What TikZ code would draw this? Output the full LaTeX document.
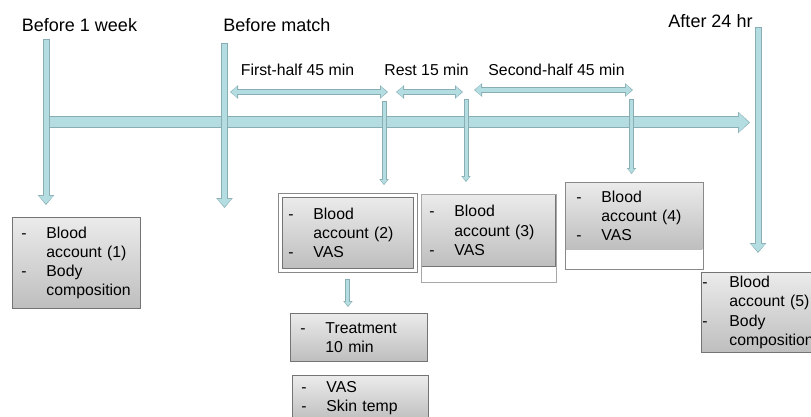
\documentclass[tikz,border=0pt]{standalone}
\usepackage{fontspec}
\setmainfont{Liberation Sans}
\usetikzlibrary{arrows.meta,calc,fit}
\definecolor{tlfill}{HTML}{B4DDE1}
\definecolor{tlline}{HTML}{88AEB3}
\definecolor{boxline}{HTML}{747474}
\definecolor{boxtop}{HTML}{EBEBEB}
\definecolor{boxbot}{HTML}{BEBEBE}
\definecolor{frameline}{HTML}{A8A8A8}
\newcommand\boxfont{\fontsize{15.8}{19.3}\selectfont}
\newcommand\itm{\makebox[25pt][l]{-}}
\newcommand\gap{\hspace*{25pt}}

\begin{document}
\begin{tikzpicture}[x=1pt, y=-1pt,
  axtip/.tip={Triangle[width=9pt 1, length=0pt 1]},
  mktip/.tip={Triangle[width=9pt 1, length=3pt 1]},
  sptip/.tip={Triangle[width=7pt 1, length=2pt 1]},
  thtip/.tip={Triangle[width=4pt 1, length=1pt 1]},
  fat/.style={draw=tlfill, line width=#1, shorten >=1.2pt, shorten <=1pt,
    preaction={draw=tlline, line width=#1+2pt, shorten >=0pt, shorten <=0pt}},
  hd/.style={font=\fontsize{18}{21}\selectfont, inner sep=0pt},
  lb/.style={font=\fontsize{15.8}{19}\selectfont, inner sep=0pt},
  box/.style={draw=boxline, line width=0.9pt, top color=boxtop, bottom color=boxbot,
    anchor=north west, align=left, inner xsep=9pt, inner ysep=0pt, font=\boxfont},
  frame/.style={draw=frameline, line width=0.8pt}]
\clip (0,0) rectangle (811,417);

% time points
\node[hd] (w1) at (79.5,25) {Before 1 week};
\node[hd] (w2) at (277,25) {Before match};
\node[hd] (w3) at (710.5,21) {After 24 hr};
\node[lb] (s1) at (297.5,70) {First-half 45 min};
\node[lb] (s2) at (426.5,70) {Rest 15 min};
\node[lb] (s3) at (556.5,70) {Second-half 45 min};

% measurements
\node[box, text width=110pt, minimum height=91pt] (b1) at (12,217)
  {\itm Blood\\\gap account (1)\\\itm Body\\\gap composition};
\node[box, inner xsep=6pt, text width=119pt, minimum height=71pt] (b2) at (282,197)
  {\itm Blood\\\gap account (2)\\\itm VAS};
\node[frame, draw=boxline!85, fit=(b2), inner sep=3.5pt] (f2) {};
\node[box, inner xsep=8pt, text width=118pt, minimum height=72pt] (b3) at (421,194)
  {\itm Blood\\\gap account (3)\\\itm VAS};
\draw[frame] (b3.north west) rectangle ($(b3.south east)+(0,15)$);
\node[box, draw=none, inner xsep=11pt, text width=115pt, minimum height=67pt] (b4) at (565,182)
  {\itm Blood\\\gap account (4)\\\itm VAS};
\draw[frame, draw=boxline!85] (b4.north west) rectangle ($(b4.south east)+(0,19)$);
\node[box, inner xsep=1pt, text width=123pt, minimum height=80pt] (b5) at (701,272)
  {\makebox[27pt][l]{-}Blood\\\hspace*{27pt}account (5)\\\makebox[27pt][l]{-}Body\\\hspace*{27pt}composition};
\node[box, inner xsep=10pt, text width=117pt, minimum height=48pt] (bt) at (290,313)
  {\itm Treatment\\\gap 10 min};
\node[box, inner xsep=9pt, text width=118pt, minimum height=46pt] (bv) at (292,375)
  {\itm VAS\\\itm Skin temp};

% timeline
\coordinate (a0) at (46,122.5);
\coordinate (a1) at (750,122.5);
\coordinate (m1) at (46,39);
\coordinate (m2) at (224.5,43);
\coordinate (e2) at (224.5,208);
\coordinate (m3) at (384,101);
\coordinate (m4) at (466,99);
\coordinate (m5) at (631.5,99);
\coordinate (m6) at (758,27);
\draw[fat=10pt, -axtip] (a0) -- (a1);
\draw[fat=5pt, -mktip] (m1) -- ($(b1.north -| m1)+(0,-12)$);
\draw[fat=5pt, -mktip] (m2) -- (e2);
\draw[fat=5pt, -mktip] (m6) -- ($(b5.north -| m6)+(0,-19)$);
\draw[fat=3pt, -thtip] (m3) -- ($(f2.north -| m3)+(0,-8)$);
\draw[fat=3pt, -thtip] (m4) -- ($(b3.north -| m4)+(0,-12)$);
\draw[fat=3pt, -thtip] (m5) -- ($(b4.north -| m5)+(0,-8)$);
\draw[fat=3pt, -thtip] ($(f2.south)+(0,6)$) -- ($(bt.north -| f2.south)+(0,-6)$);

% halves
\coordinate (h1) at (230,92);
\coordinate (h2) at (388,92);
\coordinate (h3) at (396,92);
\coordinate (h4) at (463,92);
\coordinate (h5) at (474,90);
\coordinate (h6) at (633,90);
\draw[fat=4pt, sptip-sptip] (h1) -- (h2);
\draw[fat=4pt, sptip-sptip] (h3) -- (h4);
\draw[fat=4pt, sptip-sptip] (h5) -- (h6);
\end{tikzpicture}
\end{document}
